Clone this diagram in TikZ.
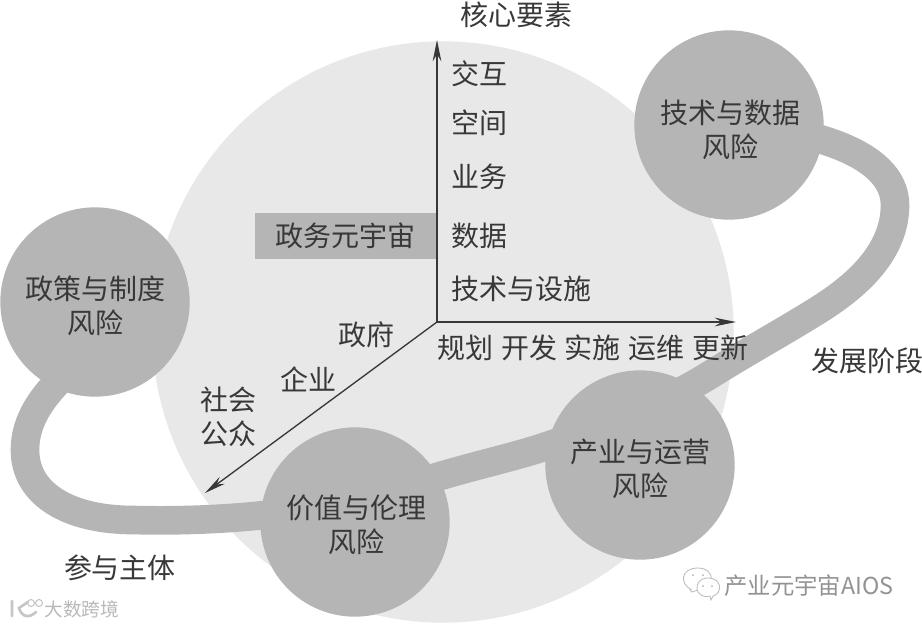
\documentclass[tikz,border=0pt]{standalone}
\usepackage{fontspec}
\setmainfont{Liberation Sans}
\newfontfamily\cjk{Noto Sans CJK SC}
\usetikzlibrary{arrows.meta}
\definecolor{disc}{gray}{0.91}
\definecolor{blob}{gray}{0.71}
\definecolor{ink}{gray}{0.22}
\tikzset{
  x=0.75pt,y=-0.75pt,
  lab/.style={font=\cjk\fontsize{21}{25.5}\selectfont,text=ink,inner sep=0pt,align=center},
  axis/.style={draw=ink,line width=1pt,-{Stealth[length=16pt,width=6.5pt]}},
  band/.style={draw=blob,line width=21.5pt},
  riskdisc/.style={circle,fill=blob,minimum size=142pt,inner sep=0pt},
  mark1/.style={font=\cjk\fontsize{14}{16}\selectfont,text=gray!55,inner sep=0pt},
  mark2/.style={font=\cjk\fontsize{17.5}{20}\selectfont,text=gray!85,inner sep=0pt}
}
\begin{document}
\begin{tikzpicture}
\useasboundingbox (0,0) rectangle (922,626);
\fill[white] (0,0) rectangle (922,626);
\fill[disc] (443,332) circle[radius=218pt];
\draw[band] (75,365) .. controls (42,395) and (25,420) .. (25,450)
  .. controls (25,495) and (70,520) .. (133,520)
  .. controls (215,522) and (290,515) .. (356,500)
  .. controls (390,492) and (410,485) .. (437,477)
  .. controls (480,464) and (515,457) .. (550,445)
  .. controls (620,422) and (670,400) .. (713,373)
  .. controls (750,350) and (790,328) .. (823,307)
  .. controls (860,283) and (895,250) .. (895,205)
  .. controls (895,150) and (800,128) .. (729,125);
\node[riskdisc] (tech) at (729,125) {};
\node[riskdisc] (policy) at (95,302) {};
\node[riskdisc] (value) at (355,522) {};
\node[riskdisc] (ind) at (640,465) {};
\node[lab] at (730,130) {技术与数据\\风险};
\node[lab] at (96,306) {政策与制度\\风险};
\node[lab] at (356,525) {价值与伦理\\风险};
\node[lab] at (640,469) {产业与运营\\风险};
\node[fill=gray!58,minimum width=136.5pt,minimum height=35pt,inner sep=0pt] (tag) at (346,236) {};
\node[lab] (gov) at (345,236) {政务元宇宙};
\coordinate (o) at (437,322);
\coordinate (top) at (437,40);
\coordinate (right) at (736,322);
\coordinate (sw) at (205,493);
\draw[axis] (o) -- (top);
\draw[axis] (o) -- (right);
\draw[axis] (o) -- (sw);
\node[lab] (t0) at (516,15) {核心要素};
\node[lab] (z1) at (479,74) {交互};
\node[lab] (z2) at (479,123) {空间};
\node[lab] (z3) at (479,177) {业务};
\node[lab] (z4) at (479,236) {数据};
\node[lab] (z5) at (521,289) {技术与设施};
\node[lab] (x1) at (465,348) {规划};
\node[lab] (x2) at (529,348) {开发};
\node[lab] (x3) at (592,348) {实施};
\node[lab] (x4) at (656,348) {运维};
\node[lab] (x5) at (720,348) {更新};
\node[lab] (xt) at (867,361) {发展阶段};
\node[lab] (y1) at (366,335) {政府};
\node[lab] (y2) at (308,379) {企业};
\node[lab] (y3) at (228,417) {社会\\公众};
\node[lab] (yt) at (120,568) {参与主体};
% watermarks
\node[mark1] (w1) at (82,609) {大数跨境};
\draw[gray!45,line width=2pt,line cap=round] (12,601) -- (12,616) (28,602) -- (19,608) .. controls (22,618) and (30,618) .. (36,612);
\draw[gray!45,line width=.8pt] (31,603) circle[radius=3.5] (39,603) circle[radius=3.5];
\node[mark2] (w2) at (809,586) {产业元宇宙AIOS};
\draw[gray!55,line width=.6pt,fill=white] (692,592) -- (690,590) -- (691,589.5) .. controls (680,584) and (680,568) .. (698,568) .. controls (716,568) and (716,590) .. (698,590) -- cycle;
\draw[gray!55,line width=.6pt,fill=white] (711,600) -- (710,596) .. controls (694,600) and (692,578) .. (708,578) .. controls (723,578) and (722,594) .. (713,596) -- cycle;
\fill[gray!60] (693,575) circle[radius=1] (703,575) circle[radius=1] (703,586) circle[radius=1] (712,586) circle[radius=1];
\end{tikzpicture}
\end{document}
